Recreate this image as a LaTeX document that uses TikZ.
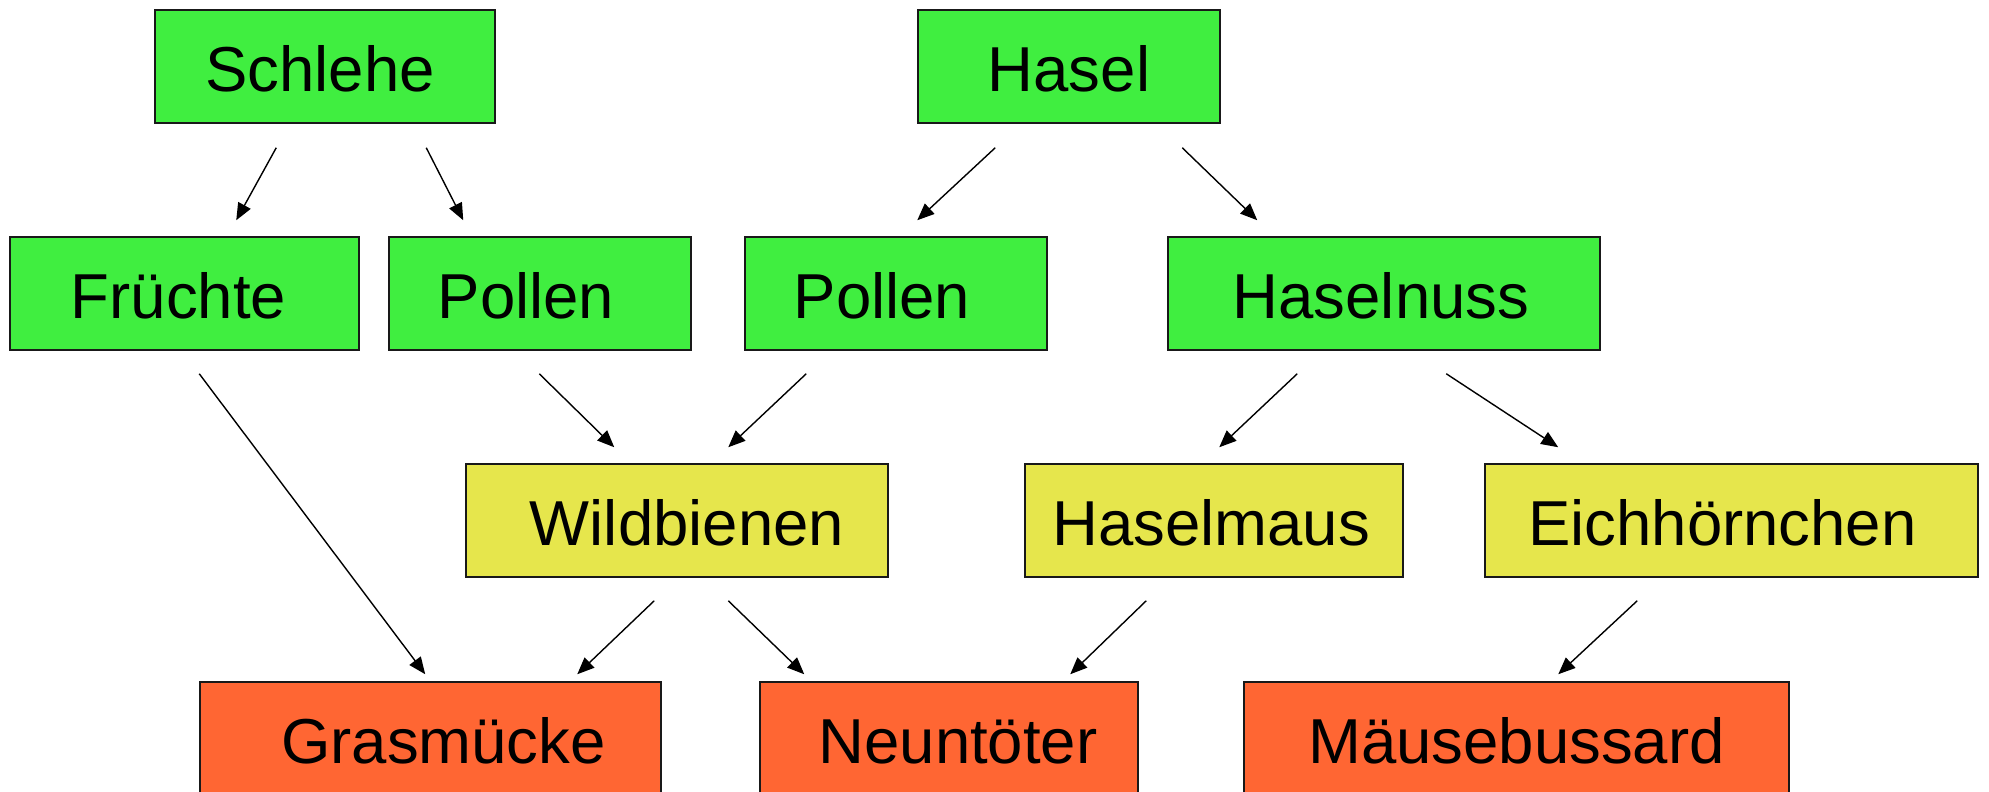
\documentclass[tikz,border=0pt]{standalone}
\usepackage{fontspec}
\setmainfont{Liberation Sans}
\usetikzlibrary{calc,arrows.meta}
\definecolor{gbox}{RGB}{64,238,64}
\definecolor{ybox}{RGB}{230,230,76}
\definecolor{obox}{RGB}{255,102,51}
\definecolor{edge}{RGB}{25,25,25}
\tikzset{
  box/.style={draw=edge, line width=1.5pt, rectangle, inner sep=0pt,
    minimum height=113pt, font=\fontsize{63.5}{70}\selectfont,
    text height=50pt, text depth=0pt},
  gb/.style={box, fill=gbox},
  yb/.style={box, fill=ybox},
  ob/.style={box, fill=obox},
  arr/.style={line width=1.4pt, -{Triangle[length=17pt,width=14pt]}}
}
\begin{document}
\begin{tikzpicture}[x=1pt,y=-1pt]
\useasboundingbox (0,0) rectangle (1989,792);
% row 1
\node[gb, minimum width=340pt] (schlehe) at (325,66.5) {Schlehe\hspace*{10pt}};
\node[gb, minimum width=302pt] (hasel) at (1069,66.5) {Hasel};
% row 2
\node[gb, minimum width=349pt] (fruechte) at (184.5,293.5) {Früchte\hspace*{12pt}};
\node[gb, minimum width=302pt] (pollenA) at (540,293.5) {Pollen\hspace*{28pt}};
\node[gb, minimum width=302pt] (pollenB) at (896,293.5) {Pollen\hspace*{28pt}};
\node[gb, minimum width=432pt] (haselnuss) at (1384,293.5) {Haselnuss\hspace*{6pt}};
% row 3
\node[yb, minimum width=422pt] (wildbienen) at (677,520.5) {\hspace*{20pt}Wildbienen};
\node[yb, minimum width=378pt] (haselmaus) at (1214,520.5) {Haselmaus\hspace*{6pt}};
\node[yb, minimum width=493pt] (eich) at (1731.5,520.5) {Eichhörnchen\hspace*{18pt}};
% row 4
\node[ob, minimum width=461pt] (gras) at (430.5,738.5) {\hspace*{26pt}Grasmücke};
\node[ob, minimum width=378pt] (neun) at (949,738.5) {\hspace*{18pt}Neuntöter};
\node[ob, minimum width=545pt] (maeuse) at (1516.5,738.5) {Mäusebussard};
% connectors
\draw[arr] ($(schlehe.south west)+(122,24)$) -- ($(fruechte.north west)+(227,-16)$);
\draw[arr] ($(schlehe.south west)+(272,24)$) -- ($(pollenA.north west)+(75,-16)$);
\draw[arr] ($(hasel.south west)+(78,24)$) -- ($(pollenB.north west)+(173,-16)$);
\draw[arr] ($(hasel.south west)+(265,24)$) -- ($(haselnuss.north west)+(90,-16)$);
\draw[arr] ($(fruechte.south west)+(190,23)$) -- ($(gras.north west)+(226,-7)$);
\draw[arr] ($(pollenA.south west)+(151,23)$) -- ($(wildbienen.north west)+(149,-16)$);
\draw[arr] ($(pollenB.south west)+(62,23)$) -- ($(wildbienen.north west)+(263,-16)$);
\draw[arr] ($(haselnuss.south west)+(130,23)$) -- ($(haselmaus.north west)+(195,-16)$);
\draw[arr] ($(haselnuss.south west)+(279,23)$) -- ($(eich.north west)+(74,-16)$);
\draw[arr] ($(wildbienen.south west)+(189,23)$) -- ($(gras.north west)+(378,-7)$);
\draw[arr] ($(wildbienen.south west)+(263,23)$) -- ($(neun.north west)+(45,-7)$);
\draw[arr] ($(haselmaus.south west)+(122,23)$) -- ($(neun.north west)+(311,-7)$);
\draw[arr] ($(eich.south west)+(153,23)$) -- ($(maeuse.north west)+(315,-7)$);
\end{tikzpicture}
\end{document}
